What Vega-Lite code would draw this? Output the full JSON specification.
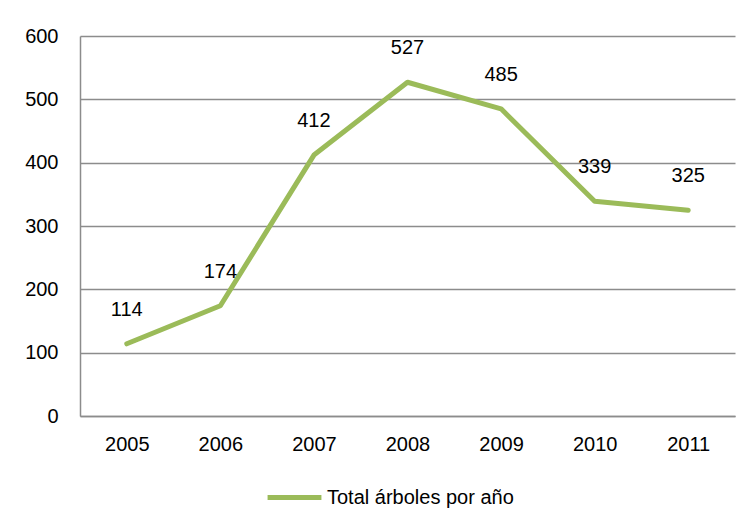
{
  "$schema": "https://vega.github.io/schema/vega-lite/v6.json",
  "autosize": {"type": "none"},
  "width": 655,
  "height": 380,
  "padding": {"left": 80, "top": 36, "right": 16, "bottom": 113},
  "background": "white",
  "config": {
    "view": {"stroke": null},
    "font": "Liberation Sans",
    "axis": {"labelFont": "Liberation Sans", "labelFontSize": 20, "labelColor": "#000000", "domainColor": "#8c8c8c", "gridColor": "#8c8c8c", "gridWidth": 1.5, "domainWidth": 1.5, "ticks": false, "title": null}
  },
  "data": {
    "values": [
      {"year": "2005", "total": 114, "serie": "Total árboles por año"},
      {"year": "2006", "total": 174, "serie": "Total árboles por año"},
      {"year": "2007", "total": 412, "serie": "Total árboles por año"},
      {"year": "2008", "total": 527, "serie": "Total árboles por año"},
      {"year": "2009", "total": 485, "serie": "Total árboles por año"},
      {"year": "2010", "total": 339, "serie": "Total árboles por año"},
      {"year": "2011", "total": 325, "serie": "Total árboles por año"}
    ]
  },
  "encoding": {
    "x": {"field": "year", "type": "ordinal", "scale": {"type": "point", "padding": 0.5},
      "axis": {"labelAngle": 0, "labelPadding": 18, "grid": false, "domain": true}},
    "y": {"field": "total", "type": "quantitative", "scale": {"domain": [0, 600], "nice": false},
      "axis": {"values": [0, 100, 200, 300, 400, 500, 600], "labelPadding": 22, "grid": true, "domain": true}}
  },
  "layer": [
    {
      "mark": {"type": "line", "strokeWidth": 5, "strokeCap": "round", "strokeJoin": "round"},
      "encoding": {
        "color": {"field": "serie", "type": "nominal", "scale": {"range": ["#9bbb59"]},
          "legend": {"title": null, "orient": "none", "legendX": 185, "legendY": 432, "symbolType": "stroke", "symbolSize": 2900, "symbolStrokeWidth": 5, "labelFontSize": 20, "labelFont": "Liberation Sans", "labelColor": "#000000", "labelOffset": 3, "labelLimit": 400}}
      }
    },
    {
      "mark": {"type": "text", "dy": -34, "fontSize": 20, "font": "Liberation Sans", "color": "#000000"},
      "encoding": {"text": {"field": "total", "type": "quantitative"}}
    }
  ]
}
